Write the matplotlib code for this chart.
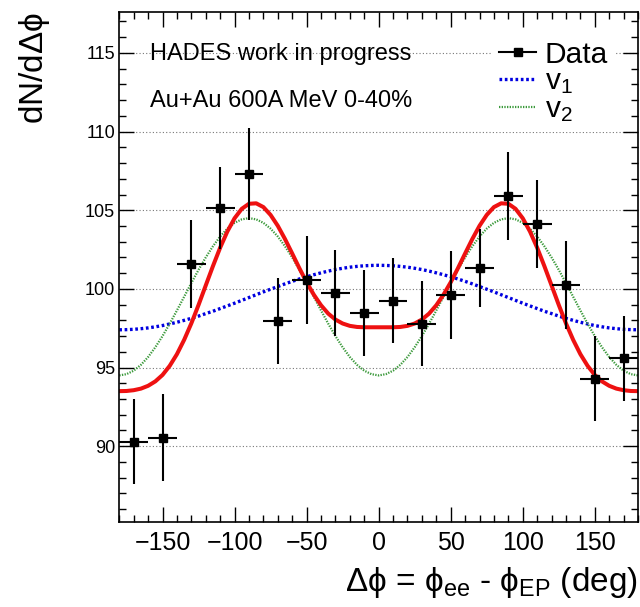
import matplotlib
matplotlib.use('Agg')
import matplotlib.pyplot as plt
from matplotlib.lines import Line2D
from matplotlib.ticker import MultipleLocator

plt.rcParams['font.family'] = ['Liberation Sans', 'DejaVu Sans']
plt.rcParams['mathtext.fontset'] = 'custom'
plt.rcParams['mathtext.rm'] = 'Liberation Sans'
plt.rcParams['mathtext.it'] = 'Liberation Sans'
plt.rcParams['mathtext.default'] = 'regular'

# Data points (bin centres, 20 deg bins)
phi_bins = [-170, -150, -130, -110, -90, -70, -50, -30, -10,
            10, 30, 50, 70, 90, 110, 130, 150, 170]
dn_dphi = [90.27, 90.55, 101.6, 105.15, 107.3, 97.96, 100.57, 99.75, 98.46,
           99.24, 97.78, 99.64, 101.33, 105.9, 104.13, 100.23, 94.28, 95.6]
dn_err = [2.7, 2.75, 2.8, 2.6, 2.9, 2.75, 2.8, 2.75, 2.75,
          2.7, 2.7, 2.8, 2.5, 2.8, 2.8, 2.8, 2.7, 2.7]
bin_halfwidth = [10] * len(phi_bins)

# Curves every 5 deg, for 0..180 (symmetric)
phi_half = list(range(0, 181, 5))
fit_half = [97.56, 97.56, 97.56, 97.58, 97.65, 97.80, 98.05, 98.43, 98.96, 99.63,
            100.42, 101.31, 102.25, 103.17, 104.01, 104.70, 105.20, 105.44, 105.41,
            105.09, 104.49, 103.65, 102.62, 101.45, 100.22, 98.98, 97.81, 96.76,
            95.85, 95.11, 94.53, 94.12, 93.84, 93.66, 93.56, 93.51, 93.50]
v1_half = [101.50, 101.49, 101.47, 101.43, 101.38, 101.31, 101.23, 101.13, 101.02,
           100.90, 100.77, 100.63, 100.48, 100.32, 100.15, 99.98, 99.81, 99.63, 99.45,
           99.27, 99.09, 98.92, 98.75, 98.58, 98.43, 98.27, 98.13, 98.00, 97.88,
           97.77, 97.67, 97.59, 97.52, 97.47, 97.43, 97.41, 97.40]
v2_half = [94.50, 94.58, 94.80, 95.17, 95.67, 96.29, 97.00, 97.79, 98.63, 99.50,
           100.37, 101.21, 102.00, 102.71, 103.33, 103.83, 104.20, 104.42, 104.50,
           104.42, 104.20, 103.83, 103.33, 102.71, 102.00, 101.21, 100.37, 99.50,
           98.63, 97.79, 97.00, 96.29, 95.67, 95.17, 94.80, 94.58, 94.50]

# mirror to -180..180
phi_curve = [-p for p in phi_half[:0:-1]] + phi_half
fit_curve = fit_half[:0:-1] + fit_half
v1_curve = v1_half[:0:-1] + v1_half
v2_curve = v2_half[:0:-1] + v2_half

fig = plt.figure(figsize=(6.4, 6.07), dpi=100)
ax = fig.add_axes([0.1864, 0.1405, 0.8105, 0.8397])

ax.plot(phi_curve, v1_curve, color='#0000e0', lw=2.4, linestyle=(0, (0.8, 0.8)))
ax.plot(phi_curve, v2_curve, color='#3c9a3c', lw=1.6, linestyle=(0, (0.6, 0.6)))
ax.plot(phi_curve, fit_curve, color='#ee1111', lw=2.9)
ax.errorbar(phi_bins, dn_dphi, yerr=dn_err, xerr=bin_halfwidth, fmt='s', color='black',
            ms=6, elinewidth=1.5, capsize=0, zorder=5)

ax.set_xlim(-180, 180)
ax.set_ylim(85.2, 117.6)
ax.xaxis.set_major_locator(MultipleLocator(50))
ax.xaxis.set_minor_locator(MultipleLocator(10))
ax.yaxis.set_major_locator(MultipleLocator(5))
ax.yaxis.set_minor_locator(MultipleLocator(1))
ax.tick_params(which='both', direction='in', top=True, right=True, width=1.0)
ax.tick_params(which='major', length=10.5)
ax.tick_params(which='minor', length=5)
ax.tick_params(axis='x', labelsize=18, pad=7)
ax.tick_params(axis='y', labelsize=13, pad=3)
for s in ax.spines.values():
    s.set_linewidth(1.2)
ax.yaxis.grid(True, color='#777777', lw=0.8, linestyle=(0, (1, 2)))

ax.set_xlabel(r'$\Delta\phi$ = $\phi_{ee}$ - $\phi_{EP}$ (deg)', fontsize=24, loc='right')
ax.xaxis.set_label_coords(1.0, -0.085)
ax.set_ylabel(r'dN/d$\Delta\phi$', fontsize=24, loc='top')
ax.yaxis.set_label_coords(-0.13, 1.0)

ax.text(0.06, 0.918, 'HADES work in progress', transform=ax.transAxes, fontsize=17, va='center')
ax.text(0.06, 0.825, 'Au+Au 600A MeV 0-40%', transform=ax.transAxes, fontsize=17, va='center')

handles = [Line2D([], [], color='black', marker='s', ms=6, lw=1.5),
           Line2D([], [], color='#0000e0', lw=2.4, linestyle=(0, (0.8, 0.8))),
           Line2D([], [], color='#3c9a3c', lw=1.6, linestyle=(0, (0.6, 0.6)))]
leg = ax.legend(handles, ['Data', '$v_1$', '$v_2$'], loc='upper right',
                bbox_to_anchor=(0.9565, 0.958), fontsize=21.5, frameon=True,
                fancybox=False, edgecolor='none', facecolor='white', framealpha=1,
                handlelength=1.25, handletextpad=0.28, labelspacing=-0.04,
                borderpad=0.25, borderaxespad=0)

fig.savefig('out.png', dpi=100)
